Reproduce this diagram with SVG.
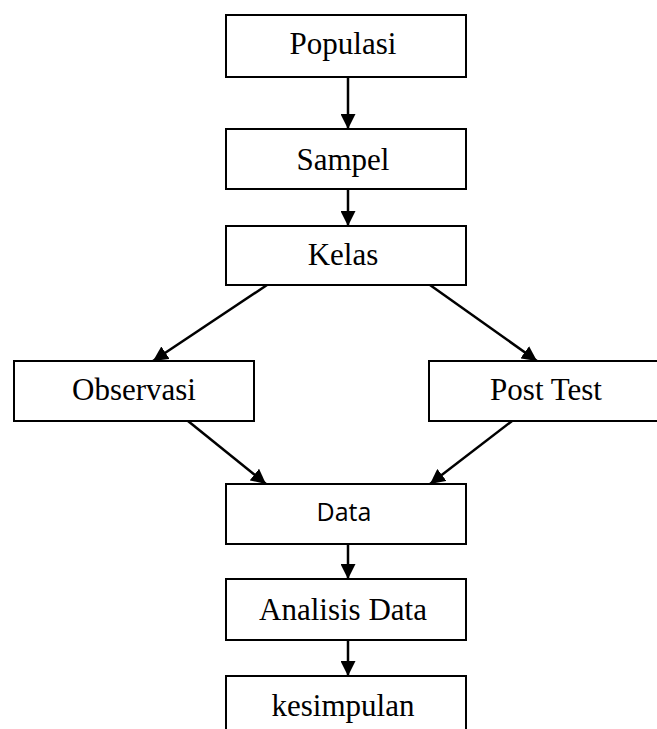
<svg xmlns="http://www.w3.org/2000/svg" width="657" height="729" viewBox="0 0 657 729">
<style>
.box{fill:#fff;stroke:#000;stroke-width:2}
.t{font-family:"Liberation Serif","Times New Roman",serif;font-size:31px;fill:#000;text-anchor:middle}
.s{font-family:"Open Sans","Noto Sans",sans-serif;font-size:25px;fill:#000;text-anchor:middle}
.c{stroke:#000;stroke-width:2.5;fill:none;marker-end:url(#ah)}
</style>
<defs>
<marker id="ah" viewBox="0 0 10 10" refX="10" refY="5" markerWidth="6" markerHeight="6" markerUnits="strokeWidth" orient="auto">
<path d="M0,0 L10,5 L0,10 Z" fill="#000"/>
</marker>
</defs>
<rect width="657" height="729" fill="#fff"/>
<g id="connectors">
<line class="c" x1="348" y1="77" x2="348" y2="129"/>
<line class="c" x1="348" y1="189" x2="348" y2="226"/>
<line class="c" x1="267" y1="285" x2="153" y2="361"/>
<line class="c" x1="430" y1="285" x2="537" y2="361"/>
<line class="c" x1="188" y1="421" x2="266" y2="484"/>
<line class="c" x1="512" y1="421" x2="430" y2="484"/>
<line class="c" x1="348" y1="544" x2="348" y2="579"/>
<line class="c" x1="348" y1="640" x2="348" y2="676"/>
</g>
<g id="populasi"><rect class="box" x="226" y="15" width="240" height="62"/><text class="t" x="343" y="54">Populasi</text></g>
<g id="sampel"><rect class="box" x="226" y="129" width="240" height="60"/><text class="t" x="343" y="170">Sampel</text></g>
<g id="kelas"><rect class="box" x="226" y="226" width="240" height="59"/><text class="t" x="343" y="265">Kelas</text></g>
<g id="observasi"><rect class="box" x="14" y="361" width="240" height="60"/><text class="t" x="134" y="400">Observasi</text></g>
<g id="posttest"><rect class="box" x="429" y="361" width="240" height="60"/><text class="t" x="546" y="400">Post Test</text></g>
<g id="data"><rect class="box" x="226" y="484" width="240" height="60"/><text class="s" x="344" y="521">Data</text></g>
<g id="analisis"><rect class="box" x="226" y="579" width="240" height="61"/><text class="t" x="343" y="620">Analisis Data</text></g>
<g id="kesimpulan"><rect class="box" x="226" y="676" width="240" height="70"/><text class="t" x="343" y="716">kesimpulan</text></g>
</svg>
